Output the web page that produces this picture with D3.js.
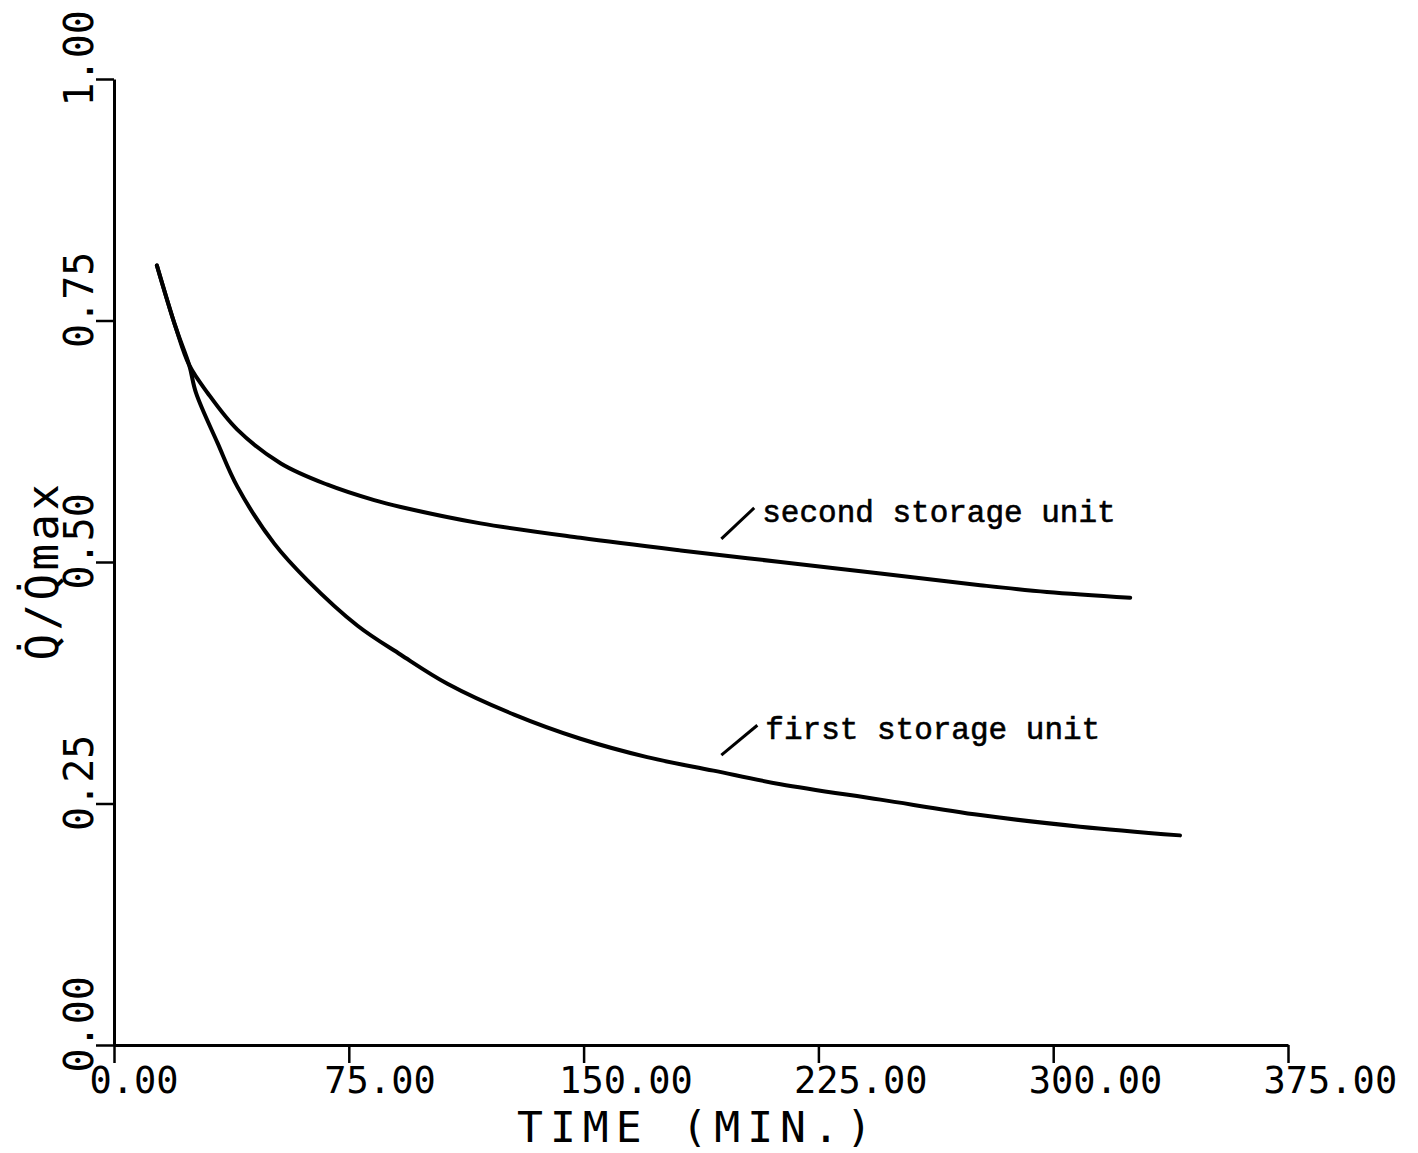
<!DOCTYPE html>
<html>
<head>
<meta charset="utf-8">
<script src="https://cdn.jsdelivr.net/npm/d3@7"></script>
<style>
  html, body { margin: 0; padding: 0; background: #fff; }
  svg { display: block; }
</style>
</head>
<body>
<svg id="chart" width="1418" height="1153"></svg>
<script>
// time in minutes, Q/Qmax
const firstTime = [13.7, 19.8, 24.0, 26.2, 33.1, 39.4, 51.2, 61.8, 77.8, 91.6, 106.5, 127.8, 149.0, 170.3, 191.5, 212.9, 244.8, 276.7, 308.6, 340.5];
const firstValue = [0.807, 0.742, 0.704, 0.675, 0.623, 0.578, 0.519, 0.481, 0.434, 0.404, 0.374, 0.342, 0.317, 0.298, 0.284, 0.270, 0.254, 0.238, 0.226, 0.217];

const secondTime = [13.7, 19.8, 24.0, 29.9, 39.4, 53.3, 68.2, 83.1, 91.6, 117.1, 149.0, 181.0, 212.9, 244.8, 276.7, 298.0, 324.6];
const secondValue = [0.807, 0.742, 0.704, 0.675, 0.637, 0.602, 0.580, 0.564, 0.557, 0.540, 0.525, 0.512, 0.500, 0.488, 0.476, 0.469, 0.463];

const xTicks = [0, 75, 150, 225, 300, 375];
const yTicks = [0, 0.25, 0.5, 0.75, 1.0];

// leader slash start (on curve side) and end, plus label text
const noteText = ["second storage unit", "first storage unit"];
const noteFrom = [[194, 0.524], [194, 0.300]];
const noteTo = [[204.5, 0.556], [205.5, 0.331]];

const svg = d3.select("#chart");

const x = d3.scaleLinear().domain([0, 375]).range([114, 1288]);
const y = d3.scaleLinear().domain([0, 1]).range([1045, 79]);

const plotFont = "'DejaVu Sans Mono', 'Liberation Mono', monospace";

// x axis
const gx = svg.append("g")
  .attr("transform", `translate(0,${y(0)})`)
  .call(d3.axisBottom(x).tickValues(xTicks).tickSize(18).tickSizeOuter(0).tickFormat(d3.format(".2f")));
gx.select(".domain").attr("stroke", "#000").attr("stroke-width", 3);
gx.selectAll(".tick line").attr("stroke", "#000").attr("stroke-width", 2.5);
gx.selectAll(".tick text")
  .attr("x", -25)
  .attr("y", 48)
  .attr("dy", null)
  .attr("text-anchor", "start")
  .attr("fill", "#000")
  .style("font-family", plotFont)
  .style("font-size", "37px");

// y axis
const gy = svg.append("g")
  .attr("transform", `translate(${x(0)},0)`)
  .call(d3.axisLeft(y).tickValues(yTicks).tickSize(18).tickSizeOuter(0).tickFormat(d3.format(".2f")));
gy.select(".domain").attr("stroke", "#000").attr("stroke-width", 3);
gy.selectAll(".tick line").attr("stroke", "#000").attr("stroke-width", 2.5);
gy.selectAll(".tick text")
  .attr("x", null)
  .attr("dy", null)
  .attr("transform", "translate(-21,27) rotate(-90)")
  .attr("text-anchor", "start")
  .attr("fill", "#000")
  .style("font-family", plotFont)
  .style("font-size", "40px");

// axis titles
svg.append("text")
  .attr("x", 517)
  .attr("y", 1142)
  .attr("fill", "#000")
  .style("font-family", plotFont)
  .style("font-size", "43px")
  .style("letter-spacing", "7px")
  .text("TIME (MIN.)");

svg.append("text")
  .attr("transform", `translate(58,${y(0.398)}) rotate(-90)`)
  .attr("fill", "#000")
  .style("font-family", plotFont)
  .style("font-size", "44px")
  .style("letter-spacing", "3.5px")
  .text("Q\u0307/Q\u0307max");

// curves
const line = d3.line()
  .x(d => x(d[0]))
  .y(d => y(d[1]))
  .curve(d3.curveCatmullRom.alpha(0.5));

const series = [
  d3.zip(firstTime, firstValue),
  d3.zip(secondTime, secondValue)
];

svg.selectAll("path.curve")
  .data(series)
  .join("path")
  .attr("class", "curve")
  .attr("d", line)
  .attr("fill", "none")
  .attr("stroke", "#000")
  .attr("stroke-width", 4)
  .attr("stroke-linecap", "round")
  .attr("stroke-linejoin", "round");

// annotations
noteText.forEach((t, i) => {
  svg.append("line")
    .attr("x1", x(noteFrom[i][0]))
    .attr("y1", y(noteFrom[i][1]))
    .attr("x2", x(noteTo[i][0]))
    .attr("y2", y(noteTo[i][1]))
    .attr("stroke", "#000")
    .attr("stroke-width", 3);

  svg.append("text")
    .attr("x", x(noteTo[i][0]) + 8)
    .attr("y", y(noteTo[i][1]) + 14)
    .attr("fill", "#000")
    .attr("stroke", "#000")
    .attr("stroke-width", 0.6)
    .style("font-family", "'Liberation Mono', 'DejaVu Sans Mono', monospace")
    .style("font-size", "31px")
    .text(t);
});
</script>
</body>
</html>
